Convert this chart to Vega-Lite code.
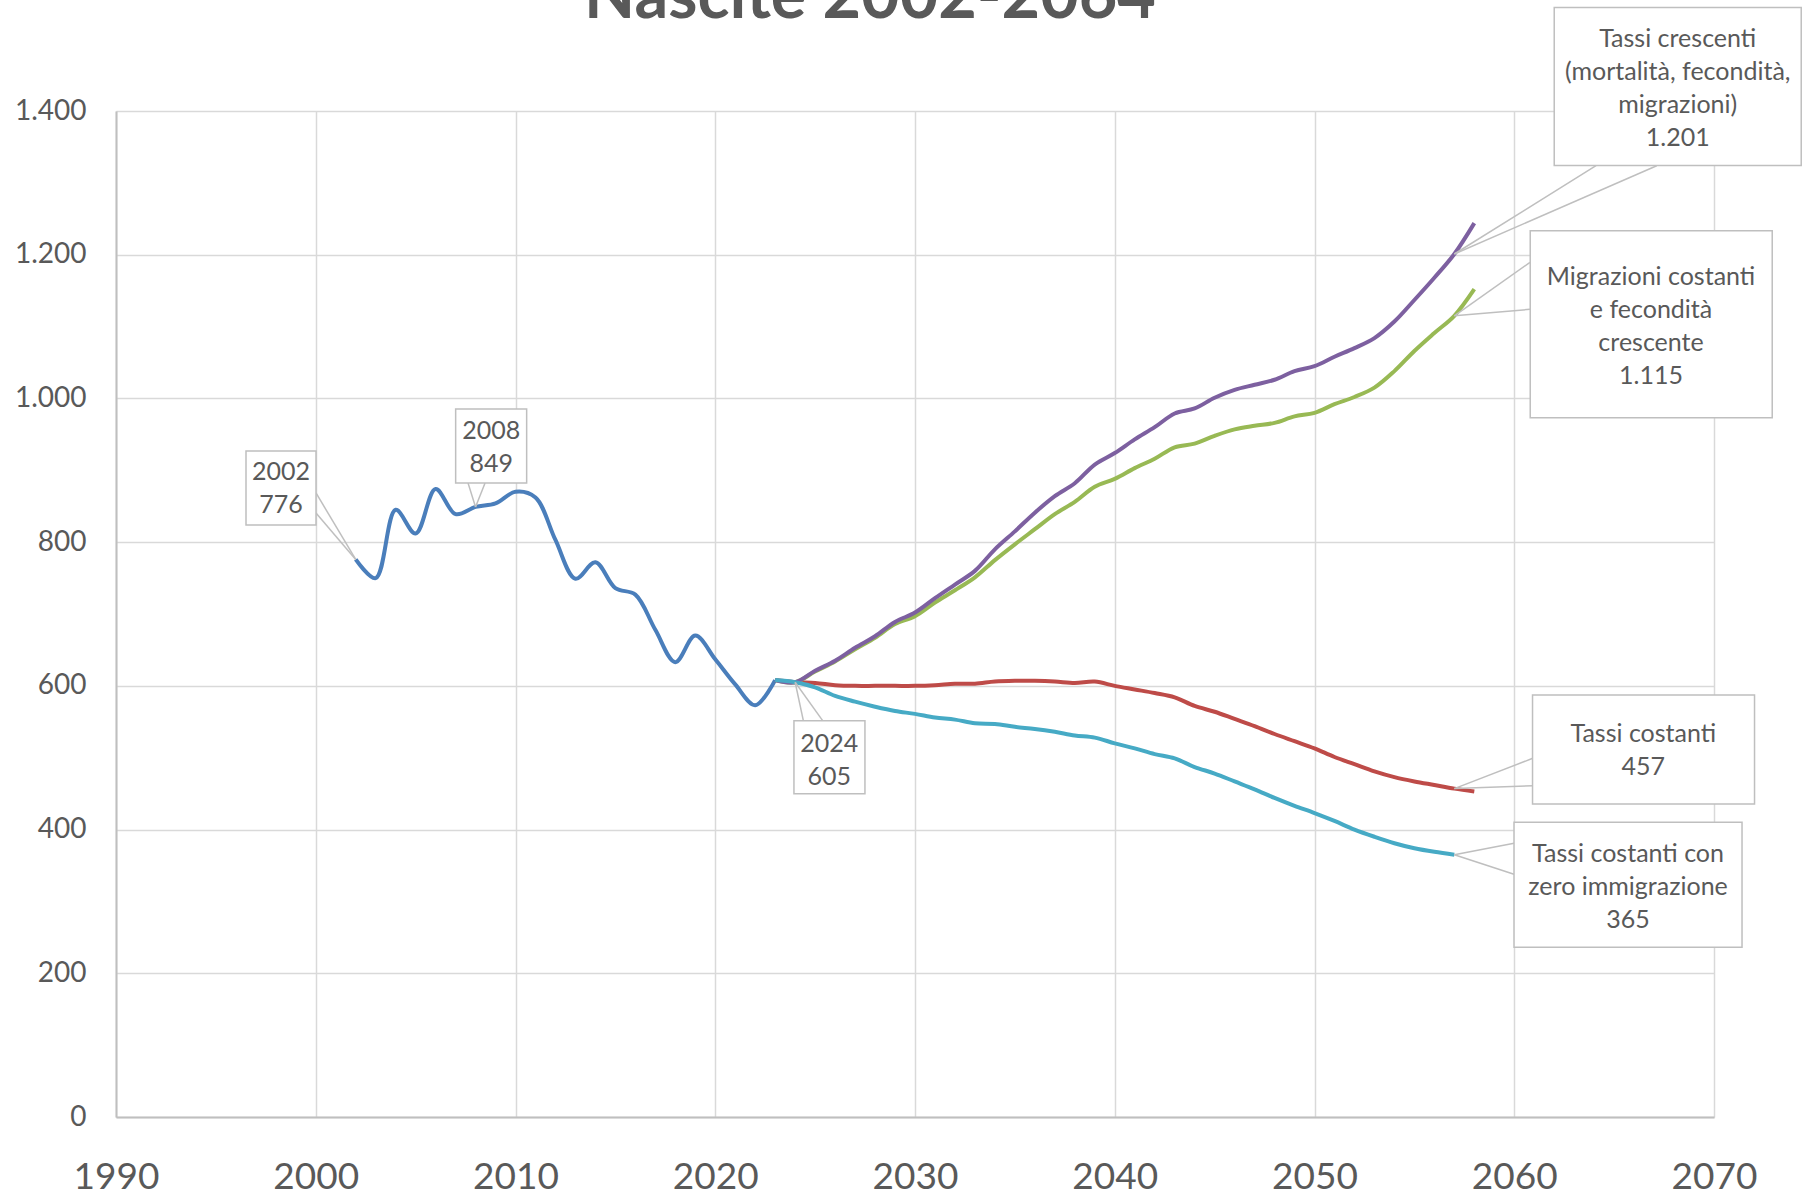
{
 "$schema": "https://vega.github.io/schema/vega-lite/v6.json",
 "width": 1598, "height": 1006,
 "autosize": "none",
 "padding": {"left": 116, "top": 111, "right": 88, "bottom": 75},
 "background": "white",
 "title": {"text": "Nascite 2002-2064", "font": "Lato", "fontSize": 66.5, "fontWeight": "bold", "color": "#595959", "anchor": "middle", "frame": "group", "baseline": "alphabetic", "dx": -45, "dy": 0, "offset": -78},
 "config": {"view": {"stroke": null}, "font": "Lato"},
 "datasets": {
  "series": [
   {"series": "Storico", "year": 2002, "value": 776},
   {"series": "Storico", "year": 2003, "value": 750},
   {"series": "Storico", "year": 2004, "value": 845},
   {"series": "Storico", "year": 2005, "value": 812},
   {"series": "Storico", "year": 2006, "value": 874},
   {"series": "Storico", "year": 2007, "value": 839},
   {"series": "Storico", "year": 2008, "value": 849},
   {"series": "Storico", "year": 2009, "value": 854},
   {"series": "Storico", "year": 2010, "value": 870},
   {"series": "Storico", "year": 2011, "value": 862},
   {"series": "Storico", "year": 2012, "value": 803},
   {"series": "Storico", "year": 2013, "value": 749},
   {"series": "Storico", "year": 2014, "value": 772},
   {"series": "Storico", "year": 2015, "value": 736},
   {"series": "Storico", "year": 2016, "value": 727},
   {"series": "Storico", "year": 2017, "value": 678},
   {"series": "Storico", "year": 2018, "value": 633},
   {"series": "Storico", "year": 2019, "value": 670},
   {"series": "Storico", "year": 2020, "value": 637},
   {"series": "Storico", "year": 2021, "value": 602},
   {"series": "Storico", "year": 2022, "value": 573},
   {"series": "Storico", "year": 2023, "value": 608},
   {"series": "Tassi costanti", "year": 2023, "value": 608},
   {"series": "Tassi costanti", "year": 2024, "value": 605},
   {"series": "Tassi costanti", "year": 2025, "value": 604},
   {"series": "Tassi costanti", "year": 2026, "value": 601},
   {"series": "Tassi costanti", "year": 2027, "value": 600},
   {"series": "Tassi costanti", "year": 2028, "value": 600},
   {"series": "Tassi costanti", "year": 2029, "value": 600},
   {"series": "Tassi costanti", "year": 2030, "value": 600},
   {"series": "Tassi costanti", "year": 2031, "value": 601},
   {"series": "Tassi costanti", "year": 2032, "value": 603},
   {"series": "Tassi costanti", "year": 2033, "value": 603},
   {"series": "Tassi costanti", "year": 2034, "value": 606},
   {"series": "Tassi costanti", "year": 2035, "value": 607},
   {"series": "Tassi costanti", "year": 2036, "value": 607},
   {"series": "Tassi costanti", "year": 2037, "value": 606},
   {"series": "Tassi costanti", "year": 2038, "value": 604},
   {"series": "Tassi costanti", "year": 2039, "value": 606},
   {"series": "Tassi costanti", "year": 2040, "value": 600},
   {"series": "Tassi costanti", "year": 2041, "value": 595},
   {"series": "Tassi costanti", "year": 2042, "value": 590},
   {"series": "Tassi costanti", "year": 2043, "value": 584},
   {"series": "Tassi costanti", "year": 2044, "value": 572},
   {"series": "Tassi costanti", "year": 2045, "value": 564},
   {"series": "Tassi costanti", "year": 2046, "value": 554},
   {"series": "Tassi costanti", "year": 2047, "value": 544},
   {"series": "Tassi costanti", "year": 2048, "value": 533},
   {"series": "Tassi costanti", "year": 2049, "value": 523},
   {"series": "Tassi costanti", "year": 2050, "value": 513},
   {"series": "Tassi costanti", "year": 2051, "value": 501},
   {"series": "Tassi costanti", "year": 2052, "value": 491},
   {"series": "Tassi costanti", "year": 2053, "value": 481},
   {"series": "Tassi costanti", "year": 2054, "value": 473},
   {"series": "Tassi costanti", "year": 2055, "value": 467},
   {"series": "Tassi costanti", "year": 2056, "value": 462},
   {"series": "Tassi costanti", "year": 2057, "value": 457},
   {"series": "Tassi costanti", "year": 2058, "value": 453},
   {"series": "Migrazioni costanti e fecondità crescente", "year": 2023, "value": 608},
   {"series": "Migrazioni costanti e fecondità crescente", "year": 2024, "value": 605},
   {"series": "Migrazioni costanti e fecondità crescente", "year": 2025, "value": 620},
   {"series": "Migrazioni costanti e fecondità crescente", "year": 2026, "value": 634},
   {"series": "Migrazioni costanti e fecondità crescente", "year": 2027, "value": 651},
   {"series": "Migrazioni costanti e fecondità crescente", "year": 2028, "value": 667},
   {"series": "Migrazioni costanti e fecondità crescente", "year": 2029, "value": 686},
   {"series": "Migrazioni costanti e fecondità crescente", "year": 2030, "value": 697},
   {"series": "Migrazioni costanti e fecondità crescente", "year": 2031, "value": 716},
   {"series": "Migrazioni costanti e fecondità crescente", "year": 2032, "value": 733},
   {"series": "Migrazioni costanti e fecondità crescente", "year": 2033, "value": 751},
   {"series": "Migrazioni costanti e fecondità crescente", "year": 2034, "value": 775},
   {"series": "Migrazioni costanti e fecondità crescente", "year": 2035, "value": 797},
   {"series": "Migrazioni costanti e fecondità crescente", "year": 2036, "value": 818},
   {"series": "Migrazioni costanti e fecondità crescente", "year": 2037, "value": 839},
   {"series": "Migrazioni costanti e fecondità crescente", "year": 2038, "value": 856},
   {"series": "Migrazioni costanti e fecondità crescente", "year": 2039, "value": 877},
   {"series": "Migrazioni costanti e fecondità crescente", "year": 2040, "value": 888},
   {"series": "Migrazioni costanti e fecondità crescente", "year": 2041, "value": 903},
   {"series": "Migrazioni costanti e fecondità crescente", "year": 2042, "value": 916},
   {"series": "Migrazioni costanti e fecondità crescente", "year": 2043, "value": 932},
   {"series": "Migrazioni costanti e fecondità crescente", "year": 2044, "value": 937},
   {"series": "Migrazioni costanti e fecondità crescente", "year": 2045, "value": 948},
   {"series": "Migrazioni costanti e fecondità crescente", "year": 2046, "value": 957},
   {"series": "Migrazioni costanti e fecondità crescente", "year": 2047, "value": 962},
   {"series": "Migrazioni costanti e fecondità crescente", "year": 2048, "value": 966},
   {"series": "Migrazioni costanti e fecondità crescente", "year": 2049, "value": 975},
   {"series": "Migrazioni costanti e fecondità crescente", "year": 2050, "value": 980},
   {"series": "Migrazioni costanti e fecondità crescente", "year": 2051, "value": 992},
   {"series": "Migrazioni costanti e fecondità crescente", "year": 2052, "value": 1002},
   {"series": "Migrazioni costanti e fecondità crescente", "year": 2053, "value": 1015},
   {"series": "Migrazioni costanti e fecondità crescente", "year": 2054, "value": 1038},
   {"series": "Migrazioni costanti e fecondità crescente", "year": 2055, "value": 1066},
   {"series": "Migrazioni costanti e fecondità crescente", "year": 2056, "value": 1091},
   {"series": "Migrazioni costanti e fecondità crescente", "year": 2057, "value": 1115},
   {"series": "Migrazioni costanti e fecondità crescente", "year": 2058, "value": 1152},
   {"series": "Tassi crescenti", "year": 2023, "value": 608},
   {"series": "Tassi crescenti", "year": 2024, "value": 605},
   {"series": "Tassi crescenti", "year": 2025, "value": 621},
   {"series": "Tassi crescenti", "year": 2026, "value": 635},
   {"series": "Tassi crescenti", "year": 2027, "value": 653},
   {"series": "Tassi crescenti", "year": 2028, "value": 669},
   {"series": "Tassi crescenti", "year": 2029, "value": 689},
   {"series": "Tassi crescenti", "year": 2030, "value": 702},
   {"series": "Tassi crescenti", "year": 2031, "value": 722},
   {"series": "Tassi crescenti", "year": 2032, "value": 741},
   {"series": "Tassi crescenti", "year": 2033, "value": 760},
   {"series": "Tassi crescenti", "year": 2034, "value": 790},
   {"series": "Tassi crescenti", "year": 2035, "value": 815},
   {"series": "Tassi crescenti", "year": 2036, "value": 841},
   {"series": "Tassi crescenti", "year": 2037, "value": 864},
   {"series": "Tassi crescenti", "year": 2038, "value": 882},
   {"series": "Tassi crescenti", "year": 2039, "value": 908},
   {"series": "Tassi crescenti", "year": 2040, "value": 924},
   {"series": "Tassi crescenti", "year": 2041, "value": 943},
   {"series": "Tassi crescenti", "year": 2042, "value": 960},
   {"series": "Tassi crescenti", "year": 2043, "value": 979},
   {"series": "Tassi crescenti", "year": 2044, "value": 986},
   {"series": "Tassi crescenti", "year": 2045, "value": 1001},
   {"series": "Tassi crescenti", "year": 2046, "value": 1012},
   {"series": "Tassi crescenti", "year": 2047, "value": 1019},
   {"series": "Tassi crescenti", "year": 2048, "value": 1026},
   {"series": "Tassi crescenti", "year": 2049, "value": 1038},
   {"series": "Tassi crescenti", "year": 2050, "value": 1045},
   {"series": "Tassi crescenti", "year": 2051, "value": 1058},
   {"series": "Tassi crescenti", "year": 2052, "value": 1070},
   {"series": "Tassi crescenti", "year": 2053, "value": 1084},
   {"series": "Tassi crescenti", "year": 2054, "value": 1107},
   {"series": "Tassi crescenti", "year": 2055, "value": 1137},
   {"series": "Tassi crescenti", "year": 2056, "value": 1168},
   {"series": "Tassi crescenti", "year": 2057, "value": 1201},
   {"series": "Tassi crescenti", "year": 2058, "value": 1244},
   {"series": "Tassi costanti con zero immigrazione", "year": 2023, "value": 608},
   {"series": "Tassi costanti con zero immigrazione", "year": 2024, "value": 605},
   {"series": "Tassi costanti con zero immigrazione", "year": 2025, "value": 598},
   {"series": "Tassi costanti con zero immigrazione", "year": 2026, "value": 586},
   {"series": "Tassi costanti con zero immigrazione", "year": 2027, "value": 578},
   {"series": "Tassi costanti con zero immigrazione", "year": 2028, "value": 571},
   {"series": "Tassi costanti con zero immigrazione", "year": 2029, "value": 565},
   {"series": "Tassi costanti con zero immigrazione", "year": 2030, "value": 561},
   {"series": "Tassi costanti con zero immigrazione", "year": 2031, "value": 556},
   {"series": "Tassi costanti con zero immigrazione", "year": 2032, "value": 553},
   {"series": "Tassi costanti con zero immigrazione", "year": 2033, "value": 548},
   {"series": "Tassi costanti con zero immigrazione", "year": 2034, "value": 547},
   {"series": "Tassi costanti con zero immigrazione", "year": 2035, "value": 543},
   {"series": "Tassi costanti con zero immigrazione", "year": 2036, "value": 540},
   {"series": "Tassi costanti con zero immigrazione", "year": 2037, "value": 536},
   {"series": "Tassi costanti con zero immigrazione", "year": 2038, "value": 531},
   {"series": "Tassi costanti con zero immigrazione", "year": 2039, "value": 528},
   {"series": "Tassi costanti con zero immigrazione", "year": 2040, "value": 520},
   {"series": "Tassi costanti con zero immigrazione", "year": 2041, "value": 513},
   {"series": "Tassi costanti con zero immigrazione", "year": 2042, "value": 505},
   {"series": "Tassi costanti con zero immigrazione", "year": 2043, "value": 499},
   {"series": "Tassi costanti con zero immigrazione", "year": 2044, "value": 487},
   {"series": "Tassi costanti con zero immigrazione", "year": 2045, "value": 478},
   {"series": "Tassi costanti con zero immigrazione", "year": 2046, "value": 467},
   {"series": "Tassi costanti con zero immigrazione", "year": 2047, "value": 456},
   {"series": "Tassi costanti con zero immigrazione", "year": 2048, "value": 444},
   {"series": "Tassi costanti con zero immigrazione", "year": 2049, "value": 433},
   {"series": "Tassi costanti con zero immigrazione", "year": 2050, "value": 423},
   {"series": "Tassi costanti con zero immigrazione", "year": 2051, "value": 412},
   {"series": "Tassi costanti con zero immigrazione", "year": 2052, "value": 400},
   {"series": "Tassi costanti con zero immigrazione", "year": 2053, "value": 390},
   {"series": "Tassi costanti con zero immigrazione", "year": 2054, "value": 381},
   {"series": "Tassi costanti con zero immigrazione", "year": 2055, "value": 374},
   {"series": "Tassi costanti con zero immigrazione", "year": 2056, "value": 369},
   {"series": "Tassi costanti con zero immigrazione", "year": 2057, "value": 365}
  ],
  "callouts": [
   {"id": 1, "year": 2002, "value": 776, "label": "2002\n776"},
   {"id": 2, "year": 2008, "value": 849, "label": "2008\n849"},
   {"id": 3, "year": 2024, "value": 605, "label": "2024\n605"},
   {"id": 4, "year": 2057, "value": 1201, "label": "Tassi crescenti\n(mortalità, fecondità,\nmigrazioni)\n1.201"},
   {"id": 5, "year": 2057, "value": 1115, "label": "Migrazioni costanti\ne fecondità\ncrescente\n1.115"},
   {"id": 6, "year": 2057, "value": 457, "label": "Tassi costanti\n457"},
   {"id": 7, "year": 2057, "value": 365, "label": "Tassi costanti con\nzero immigrazione\n365"}
  ]
 },
 "encoding": {
  "x": {"field": "year", "type": "quantitative", "title": null,
        "scale": {"domain": [1990, 2070], "nice": false, "zero": false},
        "axis": {"values": [1990, 2000, 2010, 2020, 2030, 2040, 2050, 2060, 2070], "format": "d", "labelFont": "Lato", "labelFontSize": 37, "labelColor": "#595959", "labelPadding": 42, "labelBaseline": "top", "ticks": false, "tickSize": 0, "labelFlush": false, "labelOverlap": false, "grid": true, "gridColor": "#D9D9D9", "gridWidth": 1.5, "domainColor": "#BFBFBF", "domainWidth": 2}},
  "y": {"field": "value", "type": "quantitative", "title": null,
        "scale": {"domain": [0, 1400], "nice": false},
        "axis": {"values": [0, 200, 400, 600, 800, 1000, 1200, 1400], "labelExpr": "replace(format(datum.value, ','), ',', '.')", "labelFont": "Lato", "labelFontSize": 28, "labelColor": "#595959", "labelPadding": 30, "ticks": false, "tickSize": 0, "labelFlush": false, "labelOverlap": false, "grid": true, "gridColor": "#D9D9D9", "gridWidth": 1.5, "domainColor": "#BFBFBF", "domainWidth": 2}}
 },
 "layer": [
  {"data": {"name": "series"},
   "mark": {"type": "line", "interpolate": "catmull-rom", "strokeWidth": 4},
   "encoding": {"color": {"field": "series", "type": "nominal", "legend": null,
     "scale": {"domain": ["Storico", "Tassi costanti", "Migrazioni costanti e fecondità crescente", "Tassi crescenti", "Tassi costanti con zero immigrazione"],
               "range": ["#4A7EBB", "#BE4B48", "#98B954", "#7D60A0", "#46AAC5"]}}}},

  {"data": {"name": "callouts"}, "transform": [{"filter": "datum.id == 1"}], "mark": {"type": "rule", "color": "#BFBFBF", "strokeWidth": 1.5, "x2Offset": -39.7, "y2Offset": -66.4}, "encoding": {"x2": {"field": "year"}, "y2": {"field": "value"}}},
  {"data": {"name": "callouts"}, "transform": [{"filter": "datum.id == 1"}], "mark": {"type": "rule", "color": "#BFBFBF", "strokeWidth": 1.5, "x2Offset": -39.7, "y2Offset": -46.4}, "encoding": {"x2": {"field": "year"}, "y2": {"field": "value"}}},
  {"data": {"name": "callouts"}, "transform": [{"filter": "datum.id == 1"}], "mark": {"type": "rect", "width": 70, "height": 74, "xOffset": -74.7, "yOffset": -71.4, "fill": "white", "stroke": "#BFBFBF", "strokeWidth": 1.5}},
  {"data": {"name": "callouts"}, "transform": [{"filter": "datum.id == 1"}], "mark": {"type": "text", "lineBreak": "\n", "lineHeight": 33, "fontSize": 25, "font": "Lato", "color": "#595959", "align": "center", "baseline": "alphabetic", "dx": -74.7, "dy": -79.4}, "encoding": {"text": {"field": "label"}}},

  {"data": {"name": "callouts"}, "transform": [{"filter": "datum.id == 2"}], "mark": {"type": "rule", "color": "#BFBFBF", "strokeWidth": 1.5, "x2Offset": -7.5, "y2Offset": -23.9}, "encoding": {"x2": {"field": "year"}, "y2": {"field": "value"}}},
  {"data": {"name": "callouts"}, "transform": [{"filter": "datum.id == 2"}], "mark": {"type": "rule", "color": "#BFBFBF", "strokeWidth": 1.5, "x2Offset": 9.5, "y2Offset": -23.9}, "encoding": {"x2": {"field": "year"}, "y2": {"field": "value"}}},
  {"data": {"name": "callouts"}, "transform": [{"filter": "datum.id == 2"}], "mark": {"type": "rect", "width": 71, "height": 74, "xOffset": 15.6, "yOffset": -60.9, "fill": "white", "stroke": "#BFBFBF", "strokeWidth": 1.5}},
  {"data": {"name": "callouts"}, "transform": [{"filter": "datum.id == 2"}], "mark": {"type": "text", "lineBreak": "\n", "lineHeight": 33, "fontSize": 25, "font": "Lato", "color": "#595959", "align": "center", "baseline": "alphabetic", "dx": 15.6, "dy": -67.9}, "encoding": {"text": {"field": "label"}}},

  {"data": {"name": "callouts"}, "transform": [{"filter": "datum.id == 3"}], "mark": {"type": "rule", "color": "#BFBFBF", "strokeWidth": 1.5, "x2Offset": 8.2, "y2Offset": 38.4}, "encoding": {"x2": {"field": "year"}, "y2": {"field": "value"}}},
  {"data": {"name": "callouts"}, "transform": [{"filter": "datum.id == 3"}], "mark": {"type": "rule", "color": "#BFBFBF", "strokeWidth": 1.5, "x2Offset": 27.5, "y2Offset": 38.4}, "encoding": {"x2": {"field": "year"}, "y2": {"field": "value"}}},
  {"data": {"name": "callouts"}, "transform": [{"filter": "datum.id == 3"}], "mark": {"type": "rect", "width": 71, "height": 73, "xOffset": 34.3, "yOffset": 75, "fill": "white", "stroke": "#BFBFBF", "strokeWidth": 1.5}},
  {"data": {"name": "callouts"}, "transform": [{"filter": "datum.id == 3"}], "mark": {"type": "text", "lineBreak": "\n", "lineHeight": 33, "fontSize": 25, "font": "Lato", "color": "#595959", "align": "center", "baseline": "alphabetic", "dx": 34.2, "dy": 69.4}, "encoding": {"text": {"field": "label"}}},

  {"data": {"name": "callouts"}, "transform": [{"filter": "datum.id == 4"}], "mark": {"type": "rule", "color": "#BFBFBF", "strokeWidth": 1.5, "x2Offset": 141.7, "y2Offset": -88.3}, "encoding": {"x2": {"field": "year"}, "y2": {"field": "value"}}},
  {"data": {"name": "callouts"}, "transform": [{"filter": "datum.id == 4"}], "mark": {"type": "rule", "color": "#BFBFBF", "strokeWidth": 1.5, "x2Offset": 202.4, "y2Offset": -88.3}, "encoding": {"x2": {"field": "year"}, "y2": {"field": "value"}}},
  {"data": {"name": "callouts"}, "transform": [{"filter": "datum.id == 4"}], "mark": {"type": "rect", "width": 247, "height": 158, "xOffset": 223.4, "yOffset": -167.5, "fill": "white", "stroke": "#BFBFBF", "strokeWidth": 1.5}},
  {"data": {"name": "callouts"}, "transform": [{"filter": "datum.id == 4"}], "mark": {"type": "text", "lineBreak": "\n", "lineHeight": 33, "fontSize": 25, "font": "Lato", "color": "#595959", "align": "center", "baseline": "alphabetic", "dx": 223.4, "dy": -207.3}, "encoding": {"text": {"field": "label"}}},

  {"data": {"name": "callouts"}, "transform": [{"filter": "datum.id == 5"}], "mark": {"type": "rule", "color": "#BFBFBF", "strokeWidth": 1.5, "x2Offset": 75.7, "y2Offset": -53.5}, "encoding": {"x2": {"field": "year"}, "y2": {"field": "value"}}},
  {"data": {"name": "callouts"}, "transform": [{"filter": "datum.id == 5"}], "mark": {"type": "rule", "color": "#BFBFBF", "strokeWidth": 1.5, "x2Offset": 75.7, "y2Offset": -6.5}, "encoding": {"x2": {"field": "year"}, "y2": {"field": "value"}}},
  {"data": {"name": "callouts"}, "transform": [{"filter": "datum.id == 5"}], "mark": {"type": "rect", "width": 242, "height": 187, "xOffset": 196.9, "yOffset": 8.5, "fill": "white", "stroke": "#BFBFBF", "strokeWidth": 1.5}},
  {"data": {"name": "callouts"}, "transform": [{"filter": "datum.id == 5"}], "mark": {"type": "text", "lineBreak": "\n", "lineHeight": 33, "fontSize": 25, "font": "Lato", "color": "#595959", "align": "center", "baseline": "alphabetic", "dx": 196.7, "dy": -30.8}, "encoding": {"text": {"field": "label"}}},

  {"data": {"name": "callouts"}, "transform": [{"filter": "datum.id == 6"}], "mark": {"type": "rule", "color": "#BFBFBF", "strokeWidth": 1.5, "x2Offset": 78.4, "y2Offset": -30.3}, "encoding": {"x2": {"field": "year"}, "y2": {"field": "value"}}},
  {"data": {"name": "callouts"}, "transform": [{"filter": "datum.id == 6"}], "mark": {"type": "rule", "color": "#BFBFBF", "strokeWidth": 1.5, "x2Offset": 78.4, "y2Offset": -2.9}, "encoding": {"x2": {"field": "year"}, "y2": {"field": "value"}}},
  {"data": {"name": "callouts"}, "transform": [{"filter": "datum.id == 6"}], "mark": {"type": "rect", "width": 222, "height": 109, "xOffset": 189.2, "yOffset": -39.1, "fill": "white", "stroke": "#BFBFBF", "strokeWidth": 1.5}},
  {"data": {"name": "callouts"}, "transform": [{"filter": "datum.id == 6"}], "mark": {"type": "text", "lineBreak": "\n", "lineHeight": 33, "fontSize": 25, "font": "Lato", "color": "#595959", "align": "center", "baseline": "alphabetic", "dx": 189, "dy": -46.9}, "encoding": {"text": {"field": "label"}}},

  {"data": {"name": "callouts"}, "transform": [{"filter": "datum.id == 7"}], "mark": {"type": "rule", "color": "#BFBFBF", "strokeWidth": 1.5, "x2Offset": 59.7, "y2Offset": -11.4}, "encoding": {"x2": {"field": "year"}, "y2": {"field": "value"}}},
  {"data": {"name": "callouts"}, "transform": [{"filter": "datum.id == 7"}], "mark": {"type": "rule", "color": "#BFBFBF", "strokeWidth": 1.5, "x2Offset": 59.7, "y2Offset": 19.6}, "encoding": {"x2": {"field": "year"}, "y2": {"field": "value"}}},
  {"data": {"name": "callouts"}, "transform": [{"filter": "datum.id == 7"}], "mark": {"type": "rect", "width": 228, "height": 125, "xOffset": 173.7, "yOffset": 30.1, "fill": "white", "stroke": "#BFBFBF", "strokeWidth": 1.5}},
  {"data": {"name": "callouts"}, "transform": [{"filter": "datum.id == 7"}], "mark": {"type": "text", "lineBreak": "\n", "lineHeight": 33, "fontSize": 25, "font": "Lato", "color": "#595959", "align": "center", "baseline": "alphabetic", "dx": 173.7, "dy": 7}, "encoding": {"text": {"field": "label"}}}
 ]
}
